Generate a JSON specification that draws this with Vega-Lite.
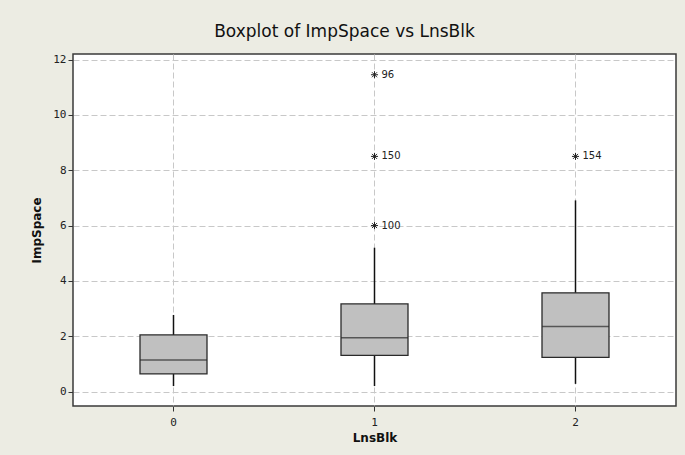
{
  "$schema": "https://vega.github.io/schema/vega-lite/v6.json",
  "width": 603,
  "height": 352,
  "autosize": {"type": "none"},
  "padding": {"left": 73, "top": 54, "right": 9, "bottom": 49},
  "background": "#ECECE3",
  "title": {
    "text": "Boxplot of ImpSpace vs LnsBlk",
    "font": "DejaVu Sans",
    "fontSize": 17,
    "fontWeight": "normal",
    "color": "#111111",
    "anchor": "middle",
    "frame": "group",
    "dx": -30,
    "offset": 13
  },
  "datasets": {
    "boxes": [
      {"LnsBlk": "0", "lower": 0.2, "q1": 0.64, "median": 1.14, "q3": 2.05, "upper": 2.77},
      {"LnsBlk": "1", "lower": 0.2, "q1": 1.31, "median": 1.95, "q3": 3.17, "upper": 5.2},
      {"LnsBlk": "2", "lower": 0.28, "q1": 1.24, "median": 2.35, "q3": 3.57, "upper": 6.91}
    ],
    "outliers": [
      {"LnsBlk": "1", "ImpSpace": 11.45, "id": "96"},
      {"LnsBlk": "1", "ImpSpace": 8.5, "id": "150"},
      {"LnsBlk": "1", "ImpSpace": 6.0, "id": "100"},
      {"LnsBlk": "2", "ImpSpace": 8.5, "id": "154"}
    ]
  },
  "encoding": {
    "x": {
      "field": "LnsBlk",
      "type": "nominal",
      "scale": {"type": "band", "domain": ["0", "1", "2"], "paddingInner": 0, "paddingOuter": 0},
      "axis": {
        "title": "LnsBlk",
        "labelAngle": 0,
        "grid": true,
        "bandPosition": 0.5
      }
    }
  },
  "layer": [
    {
      "data": {"name": "boxes"},
      "mark": {"type": "rule", "color": "#111111", "strokeWidth": 1.5},
      "encoding": {
        "y": {
          "field": "lower",
          "type": "quantitative",
          "scale": {"domain": [-0.52, 12.2], "nice": false, "zero": false},
          "axis": {"title": "ImpSpace", "values": [0, 2, 4, 6, 8, 10, 12], "grid": true}
        },
        "y2": {"field": "upper"}
      }
    },
    {
      "data": {"name": "boxes"},
      "mark": {"type": "bar", "width": 67, "fill": "#C0C0C0", "stroke": "#2a2a2a", "strokeWidth": 1.3},
      "encoding": {
        "y": {"field": "q1", "type": "quantitative"},
        "y2": {"field": "q3"}
      }
    },
    {
      "data": {"name": "boxes"},
      "mark": {"type": "tick", "size": 67, "thickness": 1.5, "color": "#2a2a2a", "orient": "horizontal"},
      "encoding": {
        "y": {"field": "median", "type": "quantitative"}
      }
    },
    {
      "data": {"name": "outliers"},
      "mark": {
        "type": "point",
        "shape": "M-1,0L1,0M0,-1L0,1M-0.7,-0.7L0.7,0.7M-0.7,0.7L0.7,-0.7",
        "size": 50,
        "filled": false,
        "stroke": "#222222",
        "strokeWidth": 1,
        "opacity": 1
      },
      "encoding": {
        "y": {"field": "ImpSpace", "type": "quantitative"}
      }
    },
    {
      "data": {"name": "outliers"},
      "mark": {
        "type": "text",
        "align": "left",
        "baseline": "middle",
        "dx": 7,
        "font": "DejaVu Sans",
        "fontSize": 10,
        "color": "#222222"
      },
      "encoding": {
        "y": {"field": "ImpSpace", "type": "quantitative"},
        "text": {"field": "id"}
      }
    }
  ],
  "config": {
    "view": {"fill": "#FFFFFF", "stroke": "#3a3a3a", "strokeWidth": 1.5},
    "axis": {
      "domain": false,
      "tickSize": 5,
      "tickColor": "#333333",
      "tickWidth": 1,
      "gridColor": "#C8C8C8",
      "gridDash": [6, 3],
      "gridWidth": 1,
      "labelFont": "DejaVu Sans Mono",
      "labelFontSize": 11,
      "labelColor": "#222222",
      "titleFont": "DejaVu Sans",
      "titleFontSize": 12,
      "titleFontWeight": "bold",
      "titleColor": "#111111"
    },
    "axisY": {"labelPadding": 2, "titlePadding": 9},
    "axisX": {"labelPadding": 5, "titlePadding": 5}
  }
}
